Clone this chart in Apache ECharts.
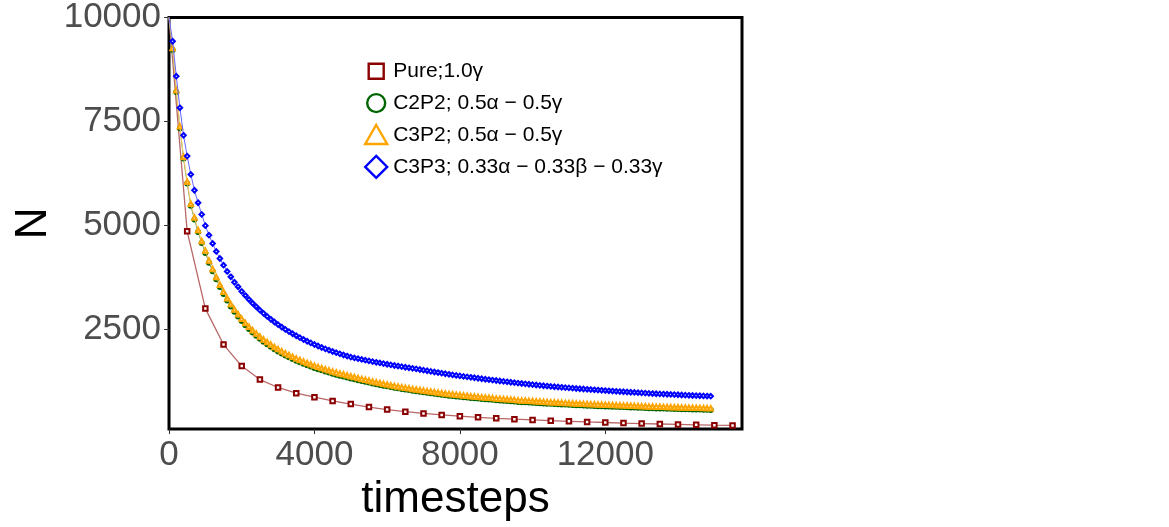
<!DOCTYPE html>
<html>
<head>
<meta charset="utf-8">
<script src="https://cdn.jsdelivr.net/npm/echarts@6/dist/echarts.min.js"></script>
<style>
  html, body { margin: 0; padding: 0; background: #fff; }
  #chart { width: 1169px; height: 527px; }
</style>
</head>
<body>
<div id="chart"></div>
<script>
// sample times (every 100 steps) for the mixed crystals
var stepsFine = [0, 100, 200, 300, 400, 500, 600, 700, 800, 900,
  1000, 1100, 1200, 1300, 1400, 1500, 1600, 1700, 1800, 1900,
  2000, 2100, 2200, 2300, 2400, 2500, 2600, 2700, 2800, 2900,
  3000, 3100, 3200, 3300, 3400, 3500, 3600, 3700, 3800, 3900,
  4000, 4100, 4200, 4300, 4400, 4500, 4600, 4700, 4800, 4900,
  5000, 5100, 5200, 5300, 5400, 5500, 5600, 5700, 5800, 5900,
  6000, 6100, 6200, 6300, 6400, 6500, 6600, 6700, 6800, 6900,
  7000, 7100, 7200, 7300, 7400, 7500, 7600, 7700, 7800, 7900,
  8000, 8100, 8200, 8300, 8400, 8500, 8600, 8700, 8800, 8900,
  9000, 9100, 9200, 9300, 9400, 9500, 9600, 9700, 9800, 9900,
  10000, 10100, 10200, 10300, 10400, 10500, 10600, 10700, 10800, 10900,
  11000, 11100, 11200, 11300, 11400, 11500, 11600, 11700, 11800, 11900,
  12000, 12100, 12200, 12300, 12400, 12500, 12600, 12700, 12800, 12900,
  13000, 13100, 13200, 13300, 13400, 13500, 13600, 13700, 13800, 13900,
  14000, 14100, 14200, 14300, 14400, 14500, 14600, 14700, 14800, 14900]

// sample times (every 500 steps) for the pure crystal
var stepsPure = [0, 500, 1000, 1500, 2000, 2500, 3000, 3500, 4000, 4500,
  5000, 5500, 6000, 6500, 7000, 7500, 8000, 8500, 9000, 9500,
  10000, 10500, 11000, 11500, 12000, 12500, 13000, 13500, 14000, 14500,
  15000, 15500]

var pure = [10000, 4864, 3007, 2143, 1626, 1302, 1112, 976, 880, 790,
  712, 640, 580, 530, 488, 452, 422, 396, 372, 351,
  332, 315, 299, 284, 270, 257, 245, 234, 224, 215,
  207, 200]

var c2p2 = [10000, 9220, 8210, 7340, 6610, 6010, 5480, 5150, 4850, 4585,
  4345, 4110, 3905, 3712, 3525, 3355, 3200, 3060, 2932, 2815,
  2707, 2607, 2515, 2430, 2352, 2280, 2211, 2148, 2088, 2031,
  1979, 1929, 1881, 1837, 1795, 1755, 1717, 1681, 1646, 1613,
  1582, 1552, 1523, 1495, 1469, 1443, 1419, 1395, 1373, 1351,
  1330, 1309, 1288, 1268, 1248, 1229, 1210, 1192, 1174, 1156,
  1140, 1124, 1108, 1093, 1078, 1063, 1049, 1035, 1021, 1008,
  995, 983, 971, 959, 948, 937, 926, 916, 906, 897,
  888, 879, 870, 861, 853, 845, 837, 829, 822, 815,
  808, 801, 794, 787, 780, 773, 766, 760, 755, 749,
  744, 739, 733, 728, 723, 718, 713, 709, 704, 700,
  695, 691, 686, 682, 677, 673, 670, 666, 663, 660,
  656, 653, 650, 646, 643, 640, 636, 633, 629, 626,
  622, 619, 615, 612, 609, 607, 604, 602, 599, 596,
  594, 591, 589, 586, 584, 582, 580, 577, 575, 573]

var c3p2 = [10000, 9265, 8255, 7385, 6655, 6055, 5525, 5195, 4895, 4630,
  4400, 4165, 3960, 3767, 3580, 3410, 3255, 3115, 2987, 2870,
  2762, 2662, 2570, 2485, 2407, 2335, 2266, 2203, 2143, 2086,
  2034, 1984, 1936, 1892, 1850, 1810, 1772, 1736, 1701, 1668,
  1637, 1607, 1578, 1550, 1524, 1498, 1474, 1450, 1428, 1406,
  1383, 1361, 1339, 1318, 1297, 1277, 1257, 1238, 1219, 1200,
  1183, 1166, 1150, 1135, 1120, 1105, 1091, 1077, 1063, 1050,
  1037, 1025, 1013, 1001, 990, 979, 968, 958, 948, 939,
  930, 921, 912, 903, 895, 887, 879, 871, 864, 857,
  850, 843, 836, 829, 822, 815, 808, 802, 797, 791,
  786, 781, 775, 770, 765, 760, 755, 751, 746, 742,
  737, 733, 728, 724, 719, 715, 712, 708, 705, 702,
  698, 695, 692, 688, 685, 682, 678, 675, 671, 668,
  664, 661, 657, 654, 651, 649, 646, 644, 641, 638,
  636, 633, 631, 628, 626, 624, 622, 619, 617, 615]

var c3p3 = [10000, 9430, 8590, 7830, 7170, 6670, 6230, 5850, 5550, 5270,
  5000, 4770, 4570, 4380, 4210, 4050, 3900, 3770, 3640, 3530,
  3420, 3320, 3225, 3135, 3050, 2970, 2893, 2820, 2750, 2685,
  2622, 2563, 2507, 2454, 2403, 2355, 2309, 2265, 2223, 2183,
  2145, 2108, 2073, 2040, 2008, 1977, 1948, 1920, 1893, 1867,
  1842, 1822, 1803, 1785, 1767, 1750, 1733, 1717, 1701, 1685,
  1670, 1655, 1640, 1626, 1612, 1598, 1584, 1571, 1558, 1543,
  1528, 1513, 1498, 1484, 1470, 1456, 1442, 1428, 1414, 1402,
  1390, 1378, 1367, 1356, 1345, 1334, 1322, 1310, 1299, 1289,
  1279, 1268, 1258, 1248, 1237, 1227, 1217, 1208, 1199, 1190,
  1181, 1172, 1163, 1154, 1146, 1137, 1130, 1123, 1116, 1109,
  1102, 1095, 1088, 1082, 1075, 1068, 1062, 1056, 1050, 1044,
  1038, 1032, 1026, 1020, 1014, 1009, 1003, 998, 993, 987,
  982, 977, 971, 966, 962, 958, 954, 949, 945, 941,
  937, 932, 928, 924, 920, 917, 913, 910, 906, 903]

var names = ['Pure;1.0\u03b3',
  'C2P2; 0.5\u03b1 \u2212 0.5\u03b3',
  'C3P2; 0.5\u03b1 \u2212 0.5\u03b3',
  'C3P3; 0.33\u03b1 \u2212 0.33\u03b2 \u2212 0.33\u03b3']

var xTicks = [0, 4000, 8000, 12000]
var yTicks = [2500, 5000, 7500, 10000]

// the starting point sits in the panel corner, so it gets no marker
function pairs(xs, ys) {
  var out = []
  for (var i = 0; i < xs.length; ++i) {
    if (i === 0) out.push({ value: [xs[i], ys[i]], symbol: 'none' })
    else out.push([xs[i], ys[i]])
  }
  return out
}

function plain(v) { return String(v) }

var font = '"Liberation Sans", Arial, sans-serif'
var chart = echarts.init(document.getElementById('chart'))

var option = {
  animation: false,
  backgroundColor: '#fff',
  grid: {
    left: 169, right: 427, top: 16.5, bottom: 96,
    show: true, borderColor: '#000', borderWidth: 3
  },
  legend: {
    orient: 'vertical',
    left: 358, top: 53,
    itemWidth: 24, itemHeight: 24, itemGap: 5.5,
    textStyle: { fontFamily: font, fontSize: 21, color: '#000' },
    data: [
      { name: names[0], icon: 'path://M0,0M24,24M4.5,4.5L19.5,4.5L19.5,19.5L4.5,19.5Z',
        itemStyle: { color: 'transparent', borderColor: '#8B0000', borderWidth: 2.4 } },
      { name: names[1], icon: 'path://M0,0M24,24M3,12A9,9,0,1,1,21,12A9,9,0,1,1,3,12Z',
        itemStyle: { color: 'transparent', borderColor: '#006400', borderWidth: 2.4 } },
      { name: names[2], icon: 'path://M0,0M24,24M12,2L23,21L1,21Z',
        itemStyle: { color: 'transparent', borderColor: '#FFA500', borderWidth: 2.4 } },
      { name: names[3], icon: 'path://M0,0M24,24M12,1L23,12L12,23L1,12Z',
        itemStyle: { color: 'transparent', borderColor: '#0000FF', borderWidth: 2.4 } }
    ]
  },
  xAxis: {
    type: 'value', min: 0, max: 15760,
    name: 'timesteps', nameLocation: 'middle', nameGap: 39,
    nameTextStyle: { fontFamily: font, fontSize: 44, color: '#000' },
    axisLine: { show: false },
    axisTick: { show: true, length: 5, customValues: xTicks, lineStyle: { color: '#333', width: 1 } },
    axisLabel: { customValues: xTicks, formatter: plain, margin: 9, fontFamily: font, fontSize: 35, color: '#4D4D4D' },
    splitLine: { show: false }
  },
  yAxis: {
    type: 'value', min: 112, max: 10000,
    name: 'N', nameLocation: 'middle', nameGap: 113, nameRotate: 90,
    nameTextStyle: { fontFamily: font, fontSize: 44, color: '#000' },
    axisLine: { show: false },
    axisTick: { show: true, length: 5, customValues: yTicks, lineStyle: { color: '#333', width: 1 } },
    axisLabel: { customValues: yTicks, formatter: plain, margin: 8, fontFamily: font, fontSize: 35, color: '#4D4D4D' },
    splitLine: { show: false }
  },
  series: [
    {
      name: names[0], type: 'line', data: pairs(stepsPure, pure),
      symbol: 'emptyRect', symbolSize: 4.5,
      itemStyle: { color: '#8B0000', borderWidth: 1.2 },
      lineStyle: { color: '#B96666', width: 1.3 }, z: 2
    },
    {
      name: names[1], type: 'line', data: pairs(stepsFine, c2p2),
      symbol: 'emptyCircle', symbolSize: 4,
      itemStyle: { color: '#006400', borderWidth: 1.1 },
      lineStyle: { color: '#66A266', width: 1 }, z: 3
    },
    {
      name: names[2], type: 'line', data: pairs(stepsFine, c3p2),
      symbol: 'emptyTriangle', symbolSize: 4.5,
      itemStyle: { color: '#FFA500', borderWidth: 1.1 },
      lineStyle: { color: '#FFC966', width: 1 }, z: 4
    },
    {
      name: names[3], type: 'line', data: pairs(stepsFine, c3p3),
      symbol: 'emptyDiamond', symbolSize: 4.5,
      itemStyle: { color: '#0000FF', borderWidth: 1.1 },
      lineStyle: { color: '#6666FF', width: 1 }, z: 5
    }
  ]
}
chart.setOption(option)
</script>
</body>
</html>
